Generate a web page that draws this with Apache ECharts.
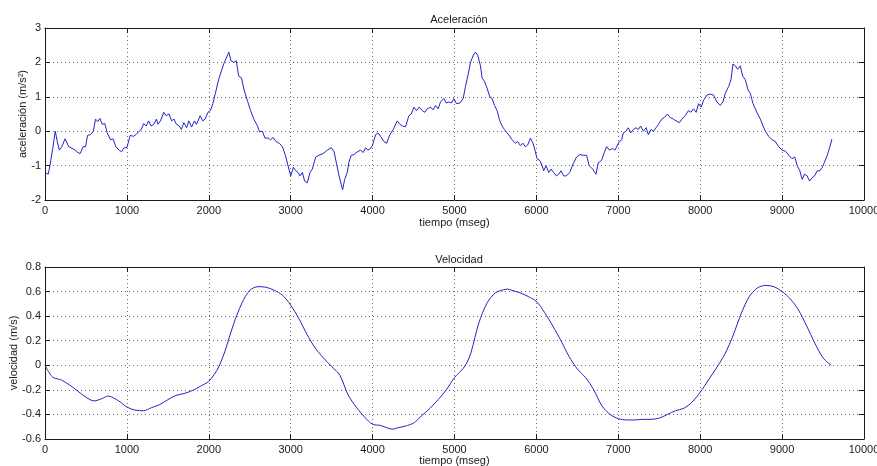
<!DOCTYPE html>
<html>
<head>
<meta charset="utf-8">
<script src="https://cdn.jsdelivr.net/npm/echarts@6/dist/echarts.min.js"></script>
<style>
  html, body { margin: 0; padding: 0; background: #fff; }
  #chart { width: 877px; height: 466px; }
</style>
</head>
<body>
<div id="chart"></div>
<script>
// Acceleration samples: time (ms) and value (m/s^2)
const accelTime = [
  0, 40, 60, 95, 125, 150, 175, 205, 245, 290, 330, 370, 400, 430, 465, 495, 520, 555, 590, 617,
  645, 670, 700, 730, 760, 800, 830, 865, 905, 935, 965, 1000, 1040, 1080, 1110, 1140, 1175, 1205, 1235, 1265,
  1295, 1330, 1360, 1380, 1410, 1450, 1480, 1515, 1545, 1575, 1605, 1640, 1665, 1695, 1730, 1755, 1790, 1825, 1850, 1895,
  1925, 1955, 1990, 2020, 2050, 2080, 2120, 2160, 2190, 2210, 2245, 2270, 2305, 2335, 2365, 2400, 2430, 2470, 2510, 2550,
  2595, 2620, 2655, 2685, 2725, 2755, 2785, 2820, 2860, 2900, 2935, 2965, 3000, 3033, 3061, 3090, 3114, 3142, 3170, 3203,
  3236, 3264, 3305, 3345, 3398, 3447, 3496, 3530, 3560, 3590, 3618, 3634, 3659, 3691, 3711, 3740, 3772, 3813, 3854, 3886,
  3915, 3943, 3976, 4000, 4037, 4065, 4098, 4138, 4171, 4211, 4252, 4301, 4333, 4366, 4402, 4443, 4472, 4504, 4537, 4569,
  4606, 4638, 4667, 4707, 4740, 4768, 4801, 4829, 4870, 4898, 4931, 4963, 4992, 5024, 5065, 5106, 5134, 5167, 5195, 5228,
  5256, 5285, 5317, 5337, 5366, 5398, 5431, 5459, 5488, 5520, 5553, 5581, 5610, 5642, 5675, 5703, 5744, 5772, 5805, 5837,
  5866, 5894, 5927, 5959, 5988, 6008, 6041, 6069, 6089, 6118, 6150, 6179, 6211, 6244, 6272, 6301, 6333, 6366, 6406, 6449,
  6490, 6531, 6571, 6612, 6645, 6686, 6727, 6755, 6796, 6824, 6857, 6890, 6931, 6959, 6980, 7012, 7041, 7061, 7094, 7122,
  7151, 7184, 7216, 7245, 7273, 7306, 7339, 7367, 7400, 7429, 7461, 7490, 7531, 7563, 7600, 7633, 7673, 7706, 7747, 7776,
  7816, 7857, 7886, 7918, 7951, 7980, 8012, 8041, 8082, 8122, 8163, 8204, 8245, 8278, 8306, 8347, 8376, 8400, 8429, 8457,
  8490, 8518, 8551, 8584, 8612, 8645, 8673, 8702, 8735, 8767, 8796, 8837, 8878, 8918, 8959, 9000, 9041, 9082, 9122, 9155,
  9184, 9216, 9245, 9273, 9306, 9335, 9367, 9396, 9429, 9461, 9490, 9518, 9551, 9584, 9608
];
const accelValue = [
  -1.2, -1.25, -1.0, -0.5, 0.0, -0.3, -0.55, -0.45, -0.22, -0.45, -0.5, -0.55, -0.62, -0.65, -0.45, -0.45, -0.12, -0.1, 0.0, 0.35,
  0.28, 0.37, 0.2, 0.22, -0.05, -0.25, -0.22, -0.45, -0.55, -0.6, -0.48, -0.48, -0.12, -0.15, -0.1, -0.02, 0.05, 0.22, 0.15, 0.3,
  0.15, 0.2, 0.35, 0.2, 0.3, 0.55, 0.45, 0.5, 0.3, 0.35, 0.2, 0.15, 0.05, 0.25, 0.1, 0.3, 0.12, 0.3, 0.2, 0.45,
  0.3, 0.35, 0.55, 0.6, 0.8, 1.1, 1.5, 1.8, 2.0, 2.0, 2.3, 2.05, 2.0, 2.05, 1.6, 1.55, 1.2, 0.9, 0.6, 0.35,
  0.15, -0.02, 0.0, -0.2, -0.2, -0.25, -0.18, -0.3, -0.35, -0.45, -0.7, -0.98, -1.3, -1.05, -1.15, -1.2, -1.3, -1.2, -1.45, -1.5,
  -1.2, -1.1, -0.75, -0.7, -0.65, -0.55, -0.48, -0.6, -0.95, -1.3, -1.55, -1.7, -1.4, -1.2, -0.9, -0.7, -0.68, -0.6, -0.55, -0.62,
  -0.48, -0.55, -0.5, -0.4, -0.1, -0.05, -0.15, -0.3, -0.35, -0.1, 0.05, 0.3, 0.2, 0.15, 0.13, 0.45, 0.5, 0.7, 0.6, 0.7,
  0.6, 0.55, 0.65, 0.7, 0.62, 0.75, 0.65, 0.85, 0.95, 0.82, 0.85, 0.82, 0.95, 0.8, 0.82, 0.95, 1.3, 1.65, 2.0, 2.2,
  2.3, 2.2, 1.9, 1.55, 1.45, 1.25, 1.0, 0.95, 0.75, 0.6, 0.3, 0.15, 0.05, -0.05, -0.15, -0.25, -0.35, -0.3, -0.42, -0.35,
  -0.45, -0.4, -0.2, -0.35, -0.6, -0.8, -0.85, -1.0, -1.15, -1.0, -1.2, -1.1, -1.2, -1.3, -1.25, -1.15, -1.3, -1.3, -1.2, -0.95,
  -0.75, -0.68, -0.7, -0.7, -1.0, -1.1, -1.25, -0.92, -0.85, -0.65, -0.45, -0.55, -0.5, -0.55, -0.6, -0.3, -0.25, -0.05, 0.0, 0.1,
  -0.05, 0.05, 0.1, 0.05, 0.15, 0.0, 0.1, -0.1, 0.05, 0.0, 0.1, 0.2, 0.35, 0.4, 0.5, 0.4, 0.35, 0.3, 0.25, 0.35,
  0.45, 0.6, 0.55, 0.65, 0.55, 0.8, 0.7, 0.9, 1.05, 1.08, 1.05, 0.85, 0.75, 0.85, 1.1, 1.3, 1.5, 1.95, 1.9, 1.8,
  1.9, 1.6, 1.5, 1.2, 1.1, 0.8, 0.65, 0.5, 0.35, 0.15, 0.0, -0.15, -0.25, -0.3, -0.45, -0.55, -0.58, -0.7, -0.8, -0.75,
  -1.0, -1.15, -1.4, -1.25, -1.3, -1.45, -1.35, -1.3, -1.15, -1.15, -1.05, -0.9, -0.7, -0.45, -0.23
];

// Velocity samples: time (ms) and value (m/s)
const velTime = [
  0, 50, 100, 150, 200, 300, 400, 500, 600, 700, 770, 900, 1000, 1100, 1200, 1300, 1400, 1500, 1600, 1700,
  1800, 1900, 2000, 2100, 2150, 2200, 2300, 2400, 2500, 2600, 2700, 2800, 2900, 3000, 3100, 3200, 3300, 3400, 3500, 3600,
  3700, 3800, 3900, 4000, 4100, 4200, 4250, 4300, 4400, 4500, 4600, 4700, 4800, 4900, 5000, 5100, 5150, 5200, 5300, 5400,
  5500, 5600, 5650, 5700, 5800, 5900, 6000, 6100, 6200, 6300, 6400, 6500, 6600, 6700, 6800, 6900, 7000, 7100, 7200, 7300,
  7400, 7500, 7600, 7700, 7800, 7900, 8000, 8100, 8200, 8300, 8400, 8500, 8600, 8700, 8800, 8900, 9000, 9100, 9200, 9300,
  9400, 9500, 9600
];
const velValue = [
  0.0, -0.06, -0.1, -0.11, -0.12, -0.16, -0.21, -0.26, -0.29, -0.27, -0.25, -0.29, -0.34, -0.365, -0.37, -0.345, -0.32, -0.28, -0.245, -0.23,
  -0.205, -0.17, -0.13, -0.04, 0.03, 0.12, 0.33, 0.5, 0.61, 0.64, 0.635, 0.61, 0.57, 0.49, 0.38, 0.25, 0.14, 0.06, -0.01, -0.08,
  -0.24, -0.34, -0.42, -0.48, -0.49, -0.515, -0.52, -0.51, -0.495, -0.47, -0.41, -0.35, -0.28, -0.2, -0.1, -0.03, 0.02, 0.1, 0.35, 0.51,
  0.59, 0.615, 0.62, 0.61, 0.59, 0.56, 0.52, 0.43, 0.32, 0.2, 0.07, -0.03, -0.1, -0.2, -0.33, -0.4, -0.435, -0.445, -0.445, -0.44,
  -0.44, -0.43, -0.4, -0.37, -0.35, -0.3, -0.22, -0.12, -0.02, 0.09, 0.24, 0.42, 0.56, 0.63, 0.65, 0.64, 0.6, 0.54, 0.45, 0.32,
  0.18, 0.06, 0.0
];

const xTicks = { min: 0, max: 10000, interval: 1000 };
const accelTicks = { min: -2, max: 3, interval: 1 };
const velTicks = { min: -0.6, max: 0.8, interval: 0.2 };

const FONT = 'Liberation Sans';
const INK = '#1a1a1a';
const LINE = '#2424c4';
const GRIDLINE = { color: '#6a6a6a', type: [1, 3], width: 1 };

function pair(ts, vs) { return ts.map((t, i) => [t, vs[i]]); }

function fmt(v) { return String(+v.toFixed(2)); }

function xAxisPair(gridIndex, name, gap) {
  const base = {
    type: 'value', gridIndex, ...xTicks,
    axisLine: { show: true, onZero: false, lineStyle: { color: INK, width: 1 } },
    axisTick: { show: true, inside: true, length: 5, lineStyle: { color: INK } },
    splitLine: { show: false }
  };
  return [
    Object.assign({}, base, {
      position: 'bottom',
      name, nameLocation: 'middle', nameGap: gap, nameMoveOverlap: false,
      nameTextStyle: { fontFamily: FONT, fontSize: 11, color: INK },
      axisLabel: { show: true, margin: 5, fontFamily: FONT, fontSize: 11, color: INK, formatter: v => String(v) },
      splitLine: { show: true, lineStyle: GRIDLINE }
    }),
    Object.assign({}, base, { position: 'top', axisLabel: { show: false } })
  ];
}

function yAxisPair(gridIndex, ticks, name, gap) {
  const base = {
    type: 'value', gridIndex, ...ticks,
    axisLine: { show: true, onZero: false, lineStyle: { color: INK, width: 1 } },
    axisTick: { show: true, inside: true, length: 5, lineStyle: { color: INK } },
    splitLine: { show: false }
  };
  return [
    Object.assign({}, base, {
      position: 'left',
      name, nameLocation: 'middle', nameGap: gap, nameRotate: 90, nameMoveOverlap: false,
      nameTextStyle: { fontFamily: FONT, fontSize: 11, color: INK },
      axisLabel: { show: true, margin: 4, fontFamily: FONT, fontSize: 11, color: INK, formatter: fmt },
      splitLine: { show: true, lineStyle: GRIDLINE }
    }),
    Object.assign({}, base, { position: 'right', axisLabel: { show: false } })
  ];
}

const chart = echarts.init(document.getElementById('chart'), null, { renderer: 'canvas' });

chart.setOption({
  animation: false,
  backgroundColor: '#ffffff',
  title: [
    { text: 'Aceleración', left: 454, top: 9, textAlign: 'center',
      textStyle: { fontFamily: FONT, fontSize: 11, fontWeight: 'normal', color: INK } },
    { text: 'Velocidad', left: 454, top: 249, textAlign: 'center',
      textStyle: { fontFamily: FONT, fontSize: 11, fontWeight: 'normal', color: INK } }
  ],
  grid: [
    { left: 45, right: 13, top: 28, height: 172, containLabel: false, outerBoundsMode: 'none' },
    { left: 45, right: 13, top: 267, height: 172, containLabel: false, outerBoundsMode: 'none' }
  ],
  xAxis: [
    ...xAxisPair(0, 'tiempo (mseg)', 17),
    ...xAxisPair(1, 'tiempo (mseg)', 16)
  ],
  yAxis: [
    ...yAxisPair(0, accelTicks, 'aceleración (m/s²)', 17),
    ...yAxisPair(1, velTicks, 'velocidad (m/s)', 26)
  ],
  series: [
    { type: 'line', xAxisIndex: 0, yAxisIndex: 0, data: pair(accelTime, accelValue),
      showSymbol: false, lineStyle: { color: LINE, width: 1 } },
    { type: 'line', xAxisIndex: 2, yAxisIndex: 2, data: pair(velTime, velValue),
      smooth: 0.3, showSymbol: false, lineStyle: { color: LINE, width: 1 } }
  ]
});
</script>
</body>
</html>
